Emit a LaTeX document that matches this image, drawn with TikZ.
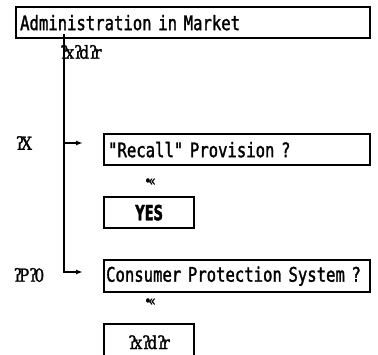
\documentclass[tikz,border=0pt]{standalone}
\usepackage{fontspec}
\usepackage{xcolor}
\usetikzlibrary{arrows.meta}
\newfontfamily\boxfont[FakeStretch=0.78,FakeBold=1.5]{DejaVu Sans Mono}
\newfontfamily\yesfont[FakeStretch=0.62,FakeBold=1.5]{DejaVu Sans}
\newfontfamily\oddfont[FakeStretch=0.85,FakeBold=1.5]{DejaVu Serif}
\newcommand{\gq}{ʔ\kern-3pt}

\begin{document}
\begin{tikzpicture}[x=1pt,y=-1pt,
  box/.style={draw, line width=2.3pt, anchor=north west, inner xsep=3pt, inner ysep=0pt, align=left, font=\boxfont\fontsize{20}{20}\selectfont},
  ansbox/.style={draw, line width=2.3pt, anchor=north west, minimum width=90, minimum height=31, inner sep=0pt},
  odd/.style={inner sep=0pt, font=\oddfont\fontsize{18}{18}\selectfont},
  conn/.style={line width=1.6pt, -{Latex[length=7pt,width=5pt]}}]
\useasboundingbox (0,0) rectangle (378,354);

% Boxes
\node [box, minimum width=354, minimum height=31, text width=346] (admin) at (15,6) {Administration in Market};
\node [box, minimum width=266, minimum height=31, text width=258] (recall) at (103,133) {"Recall" Provision ?};
\node [box, minimum width=266, minimum height=32, text width=262, inner xsep=1pt] (consumer) at (103,259) {Consumer Protection System ?};
\node [ansbox, font=\yesfont\bfseries\fontsize{21}{21}\selectfont] (yes) at (103,196) {YES};
\node [ansbox, minimum height=40, font=\oddfont\fontsize{18}{18}\selectfont] (no) at (103,323) {\raisebox{4pt}{\gq x\gq d\gq r}};

% Text Node
\node [odd] (top lbl) at (81,52) {\gq x\gq d\gq r};
\node [odd] (x lbl) at (24,143) {\gq X};
\node [odd] (p lbl) at (29,275) {\gq P\gq 0};
\node [odd, font=\oddfont\fontsize{14}{14}\selectfont] (down1) at (150,182) {•\kern-3pt«};
\node [odd, font=\oddfont\fontsize{14}{14}\selectfont] (down2) at (150,302) {•\kern-3pt«};

% Connectors
\coordinate (trunk) at (64,34);
\coordinate (tip1) at (83,143);
\coordinate (tip2) at (83,272);
\draw [line width=1.6pt] (trunk) -- (64,143);
\draw [conn] (64,143) -- (tip1);
\draw [conn] (trunk) |- (tip2);

\end{tikzpicture}
\end{document}
